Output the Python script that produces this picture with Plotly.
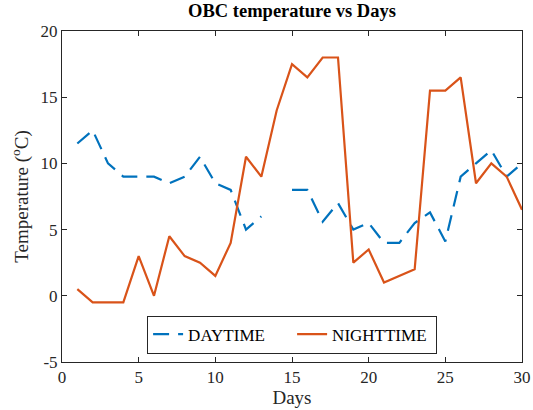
import plotly.graph_objects as go

days = list(range(1, 31))
daytime = [11.5, 12.5, 10, 9, 9, 9, 8.5, 9, 10.5, 8.5, 8, 5, 6, None, 8, 8, 5.6, 7, 5, 5.5,
           4, 4, 5.5, 6.3, 4.1, 9, 10, 11, 9, 10]
nighttime = [0.5, -0.5, -0.5, -0.5, 3, 0, 4.5, 3, 2.5, 1.5, 4, 10.5, 9, 14, 17.5, 16.5, 18, 18,
             2.5, 3.5, 1, 1.5, 2, 15.5, 15.5, 16.5, 8.5, 10, 9, 6.5]
x_ticks = [0, 5, 10, 15, 20, 25, 30]
y_ticks = [-5, 0, 5, 10, 15, 20]
y_tick_labels = ["-5", "0", "5", "10", "15", "20"]

font = "Liberation Serif"
fig = go.Figure()
fig.add_trace(go.Scatter(x=days, y=daytime, mode="lines", name="DAYTIME",
                         line=dict(color="#0072BD", width=2.2, dash="16px,9px"),
                         connectgaps=False))
fig.add_trace(go.Scatter(x=days, y=nighttime, mode="lines", name="NIGHTTIME",
                         line=dict(color="#D95319", width=2.2)))

axis_common = dict(showgrid=False, zeroline=False, showline=True, linecolor="#262626",
                   linewidth=1, mirror="ticks", ticks="inside", ticklen=5, automargin=False,
                   tickcolor="#262626", tickfont=dict(family=font, size=17, color="#262626"))
fig.update_layout(
    width=533, height=410,
    margin=dict(l=62, r=11, t=31, b=48),
    paper_bgcolor="white", plot_bgcolor="white",
    title=dict(text="<b>OBC temperature vs Days</b>", x=0.5, xref="paper", y=0.99,
               yanchor="top", font=dict(family=font, size=18.5, color="black")),
    xaxis=dict(range=[0, 30], tickvals=x_ticks,
               title=dict(text="Days", font=dict(family=font, size=19, color="#262626"), standoff=2),
               **axis_common),
    yaxis=dict(range=[-5, 20], tickvals=y_ticks, ticktext=y_tick_labels,
               title=dict(text="Temperature (<sup>o</sup>C)", font=dict(family=font, size=19, color="#262626"), standoff=6),
               **axis_common),
    legend=dict(orientation="h", x=0.185, y=0.083, xanchor="left", yanchor="middle",
                bordercolor="#262626", borderwidth=1, bgcolor="white",
                font=dict(family=font, size=17, color="black"),
                entrywidth=99, entrywidthmode="pixels"),
    showlegend=True,
)
fig.write_html("out.html", config={"displayModeBar": False},
               post_script="document.body.style.margin='0px';document.body.style.overflow='hidden';")
